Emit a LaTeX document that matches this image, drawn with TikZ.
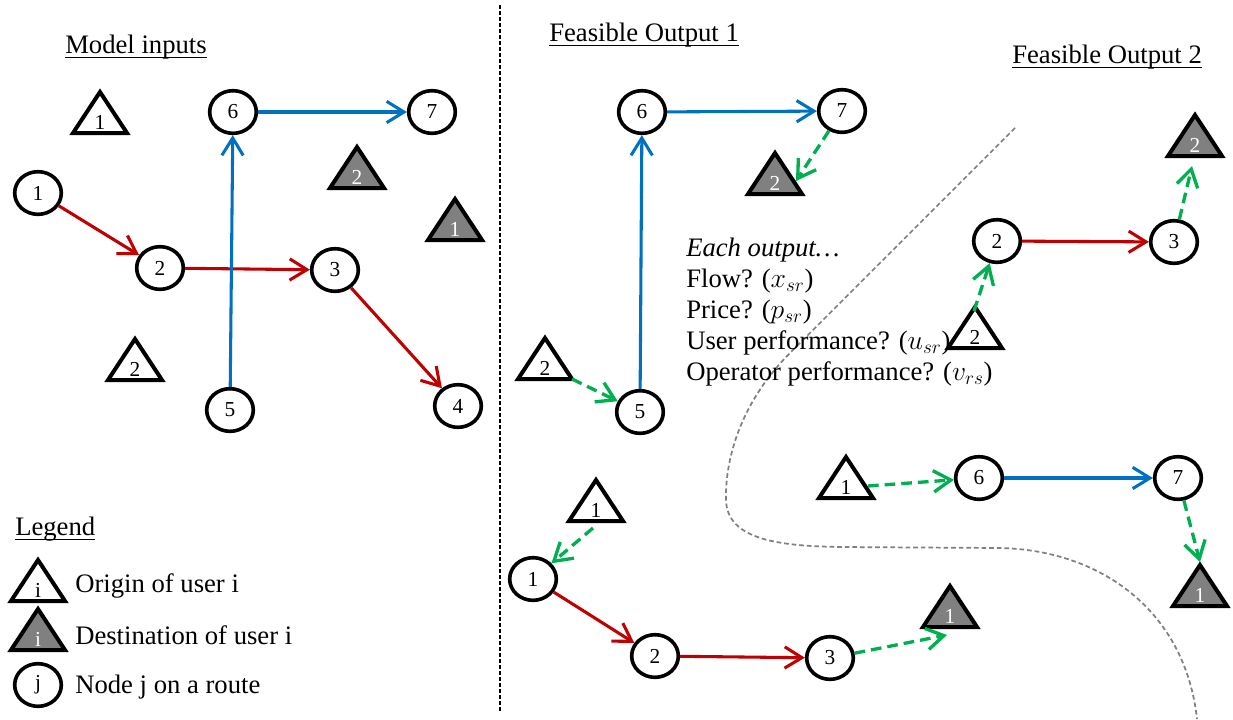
\documentclass[tikz,border=0pt]{standalone}
\usepackage{fontspec}
\setmainfont{Liberation Serif}
\usetikzlibrary{arrows.meta,shapes.geometric}
\definecolor{cred}{RGB}{192,0,0}
\definecolor{cblue}{RGB}{0,112,192}
\definecolor{cgreen}{RGB}{0,176,80}
\definecolor{cgray}{RGB}{128,128,128}
\newcommand{\myul}[1]{\setbox0\hbox{#1}\rlap{\rule[-4pt]{\wd0}{1.2pt}}\box0}
\tikzset{
  rnode/.style={ellipse, draw, line width=2.7pt, minimum width=35pt, minimum height=32pt, inner sep=0pt, fill=white, font=\fontsize{16}{18}\selectfont},
  tristyle/.style={draw, line width=3pt, line join=miter},
  trilab/.style={inner sep=0pt, font=\fontsize{16}{18}\selectfont, anchor=base},
  txt/.style={inner sep=0pt, anchor=base west, font=\fontsize{20}{24}\selectfont},
  tip/.style={-{Straight Barb[length=13pt,width=16pt]}},
  redarr/.style={tip, draw=cred, line width=2.3pt},
  bluearr/.style={tip, draw=cblue, line width=2.3pt},
  greenarr/.style={tip, draw=cgreen, line width=2.5pt, dash pattern=on 8pt off 4.5pt},
  divider/.style={draw=black, line width=1.1pt, dash pattern=on 3pt off 1.5pt},
  sepcurve/.style={draw=cgray, line width=1.3pt, dash pattern=on 3.5pt off 2.2pt},
}
\newcommand{\OTri}[4]{%
  \draw[tristyle, fill=white] (#2-27,#3+20) -- (#2,#3-21) -- (#2+27,#3+20) -- cycle;
  \node[trilab] (#1) at (#2,#3+16) {#4};}
\newcommand{\DTri}[4]{%
  \draw[tristyle, fill=cgray] (#2-27,#3+20) -- (#2,#3-21) -- (#2+27,#3+20) -- cycle;
  \node[trilab, text=white] (#1) at (#2,#3+16) {#4};}
\begin{document}
\begin{tikzpicture}[x=0.75pt, y=-0.75pt]
\useasboundingbox (0,0) rectangle (1233,719);

% divider and separating curve
\draw[divider] (500,5) -- (500,712);
\draw[sepcurve] (1015,128) -- (790,353) .. controls (740,403) and (725,460) .. (726,500)
  .. controls (727,540) and (780,546) .. (840,547) -- (1000,548)
  .. controls (1100,550) and (1185,610) .. (1197,719);

% titles
\node[txt] (tmi) at (65,53) {\myul{Model inputs}};
\node[txt] (tf1) at (549,41) {\myul{Feasible Output 1}};
\node[txt] (tf2) at (1012,63) {\myul{Feasible Output 2}};

% ---------- Model inputs ----------
\OTri{ao1}{100}{113}{1}
\DTri{ad2}{357}{168}{2}
\DTri{ad1}{455}{220}{1}
\OTri{ao2}{135}{360}{2}
\node[rnode] (a1) at (38,193) {1};
\node[rnode] (a2) at (160,268) {2};
\node[rnode] (a3) at (335,270) {3};
\node[rnode] (a4) at (458,406) {4};
\node[rnode] (a5) at (230,410) {5};
\node[rnode] (a6) at (233,112) {6};
\node[rnode] (a7) at (432,112) {7};
\draw[redarr] (a1) -- (a2);
\draw[redarr] (a2) -- (a3);
\draw[redarr] (a3) -- (a4);
\draw[bluearr] (a5) -- (a6);
\draw[bluearr] (a6) -- (a7);

% ---------- Legend ----------
\node[txt] (tleg) at (15,535) {\myul{Legend}};
\OTri{lo}{38}{581}{i}
\DTri{ld}{38}{630}{i}
\node[rnode] (lj) at (38,685) {j};
\node[txt] (tlo) at (75,592) {Origin of user i};
\node[txt] (tld) at (75,644) {Destination of user i};
\node[txt] (tlj) at (75,693) {Node j on a route};

% ---------- Feasible Output 1 ----------
\DTri{bd2}{775}{174}{2}
\OTri{bo2}{545}{359}{2}
\OTri{bo1}{596}{501}{1}
\DTri{bd1}{950}{607}{1}
\node[rnode] (b6) at (642,112) {6};
\node[rnode] (b7) at (842,111) {7};
\node[rnode] (b5) at (640,412) {5};
\node[rnode] (b1) at (533,579) {1};
\node[rnode] (b2) at (655,656) {2};
\node[rnode] (b3) at (830,658) {3};
\coordinate (bd2in) at (796,181);
\coordinate (bo2r) at (572,379);
\coordinate (bo1out) at (593,528);
\coordinate (bd1in) at (947,635);
\draw[bluearr] (b5) -- (b6);
\draw[bluearr] (b6) -- (b7);
\draw[redarr] (b1) -- (b2);
\draw[redarr] (b2) -- (b3);
\draw[greenarr] (b7) -- (bd2in);
\draw[greenarr] (bo2r) -- (b5);
\draw[greenarr] (bo1out) -- (b1);
\draw[greenarr] (b3) -- (bd1in);

% text block
\node[txt, font=\fontsize{20}{24}\selectfont\itshape] (t1) at (686,256) {Each output…};
\node[txt] (t2) at (686,287) {Flow? ($x_{sr}$)};
\node[txt] (t3) at (686,318) {Price? ($p_{sr}$)};
\node[txt] (t4) at (686,349) {User performance? ($u_{sr}$)};
\node[txt] (t5) at (686,380) {Operator performance? ($v_{rs}$)};

% ---------- Feasible Output 2 ----------
\DTri{cd2}{1195}{136}{2}
\OTri{co2}{975}{328}{2}
\OTri{co1}{846}{478}{1}
\DTri{cd1}{1200}{586}{1}
\node[rnode] (c2) at (997,241) {2};
\node[rnode] (c3) at (1174,242) {3};
\node[rnode] (c6) at (979,478) {6};
\node[rnode] (c7) at (1178,478) {7};
\coordinate (co2a) at (974,311);
\coordinate (cd2in) at (1192,166);
\coordinate (co1out) at (868,486);
\coordinate (cd1in) at (1200,562);
\draw[redarr] (c2) -- (c3);
\draw[bluearr] (c6) -- (c7);
\draw[greenarr] (co2a) -- (c2);
\draw[greenarr] (c3) -- (cd2in);
\draw[greenarr] (co1out) -- (c6);
\draw[greenarr] (c7) -- (cd1in);
\end{tikzpicture}
\end{document}
